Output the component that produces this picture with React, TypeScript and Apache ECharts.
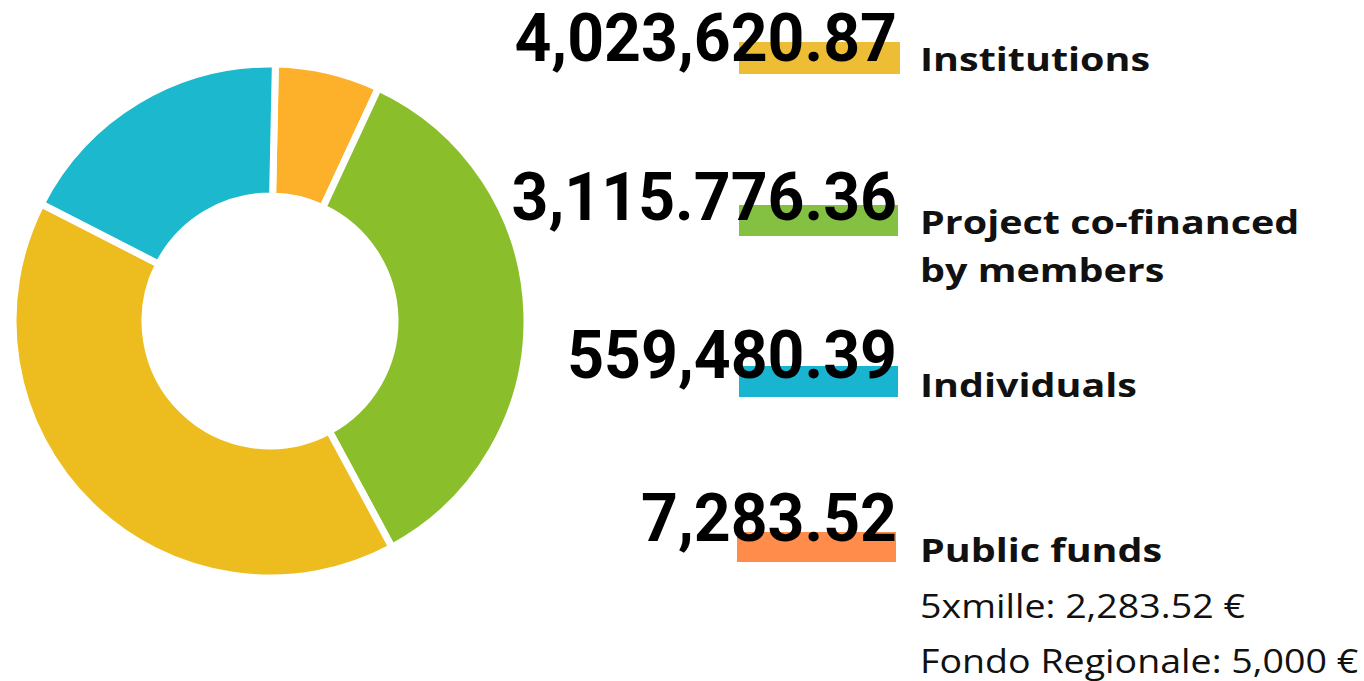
import React, { useEffect, useRef } from "react";
import * as echarts from "echarts";

// ---- data ----
const sliceNames = ["Public funds", "Project co-financed by members", "Institutions", "Individuals"];
const sliceShares = [6.6, 35.2, 40.4, 17.8];
const sliceColors = ["#FDB02A", "#8ABE2B", "#EDBC1F", "#1BB8CE"];

const amountLabels = ["4,023,620.87", "3,115.776.36", "559,480.39", "7,283.52"];
const categoryLines = [["Institutions"], ["Project co-financed", "by members"], ["Individuals"], ["Public funds"]];
const highlightColors = ["#EDBD35", "#84C143", "#19B5D0", "#FF8C4B"];
const publicFundsDetails = ["5xmille: 2,283.52 €", "Fondo Regionale: 5,000 €"];

// ---- layout ----
const NUM_FONT = "bold 66px Roboto";
const LABEL_FONT = "bold 33px 'Open Sans'";
const DETAIL_FONT = "normal 33px 'Open Sans'";
const NUM_RIGHT = 897;
const numCenters = [38.5, 198, 355.5, 518.5];
const barRects = [
  [739, 42, 161, 32],
  [739, 205, 159, 31],
  [739, 366, 159, 31],
  [737, 532, 159, 30],
];
const LABEL_X = 920;
const labelCenters = [[58], [221.5, 269.5], [384], [549]];
const detailCenters = [605, 660];

function inkWidth(text: string, font: string): number {
  const ctx = document.createElement("canvas").getContext("2d")!;
  ctx.font = font;
  const m = ctx.measureText(text);
  const w = (m.actualBoundingBoxLeft || 0) + (m.actualBoundingBoxRight || 0);
  return w > 0 ? w : m.width;
}

export default function App() {
  const ref = useRef<HTMLDivElement>(null);
  useEffect(() => {
    document.body.style.margin = "0";
    if (!ref.current) return;
    const chart = echarts.init(ref.current, undefined, { renderer: "svg" });

    const numScale = 380 / inkWidth(amountLabels[0], NUM_FONT);
    const labelScale = 375 / inkWidth("Project co-financed", LABEL_FONT);
    const detailScale = 435 / inkWidth(publicFundsDetails[1], DETAIL_FONT);

    const graphics: any[] = [];
    barRects.forEach((r, i) => {
      graphics.push({
        type: "rect",
        z: 1,
        shape: { x: r[0], y: r[1], width: r[2], height: r[3] },
        style: { fill: highlightColors[i] },
        silent: true,
      });
    });
    amountLabels.forEach((t, i) => {
      graphics.push({
        type: "text",
        z: 2,
        x: NUM_RIGHT,
        y: numCenters[i],
        scaleX: numScale,
        style: { text: t, font: NUM_FONT, fill: "#000", align: "right", verticalAlign: "middle" },
        silent: true,
      });
    });
    categoryLines.forEach((lines, i) => {
      lines.forEach((t, j) => {
        graphics.push({
          type: "text",
          z: 2,
          x: LABEL_X,
          y: labelCenters[i][j],
          scaleX: labelScale,
          style: { text: t, font: LABEL_FONT, fill: "#111", align: "left", verticalAlign: "middle" },
          silent: true,
        });
      });
    });
    publicFundsDetails.forEach((t, i) => {
      graphics.push({
        type: "text",
        z: 2,
        x: LABEL_X,
        y: detailCenters[i],
        scaleX: detailScale,
        style: { text: t, font: DETAIL_FONT, fill: "#111", align: "left", verticalAlign: "middle" },
        silent: true,
      });
    });

    chart.setOption({
      animation: false,
      backgroundColor: "#fff",
      tooltip: { show: false },
      legend: { show: false },
      graphic: { elements: graphics },
      series: [
        {
          type: "pie",
          center: [270, 321],
          radius: [125, 257],
          startAngle: 88.8,
          clockwise: true,
          silent: true,
          label: { show: false },
          labelLine: { show: false },
          emphasis: { disabled: true },
          itemStyle: { borderColor: "#fff", borderWidth: 7 },
          data: sliceNames.map((n, i) => ({
            name: n,
            value: sliceShares[i],
            itemStyle: { color: sliceColors[i] },
          })),
        },
      ],
    });
    return () => chart.dispose();
  }, []);
  return <div ref={ref} style={{ width: 1364, height: 681 }} />;
}
